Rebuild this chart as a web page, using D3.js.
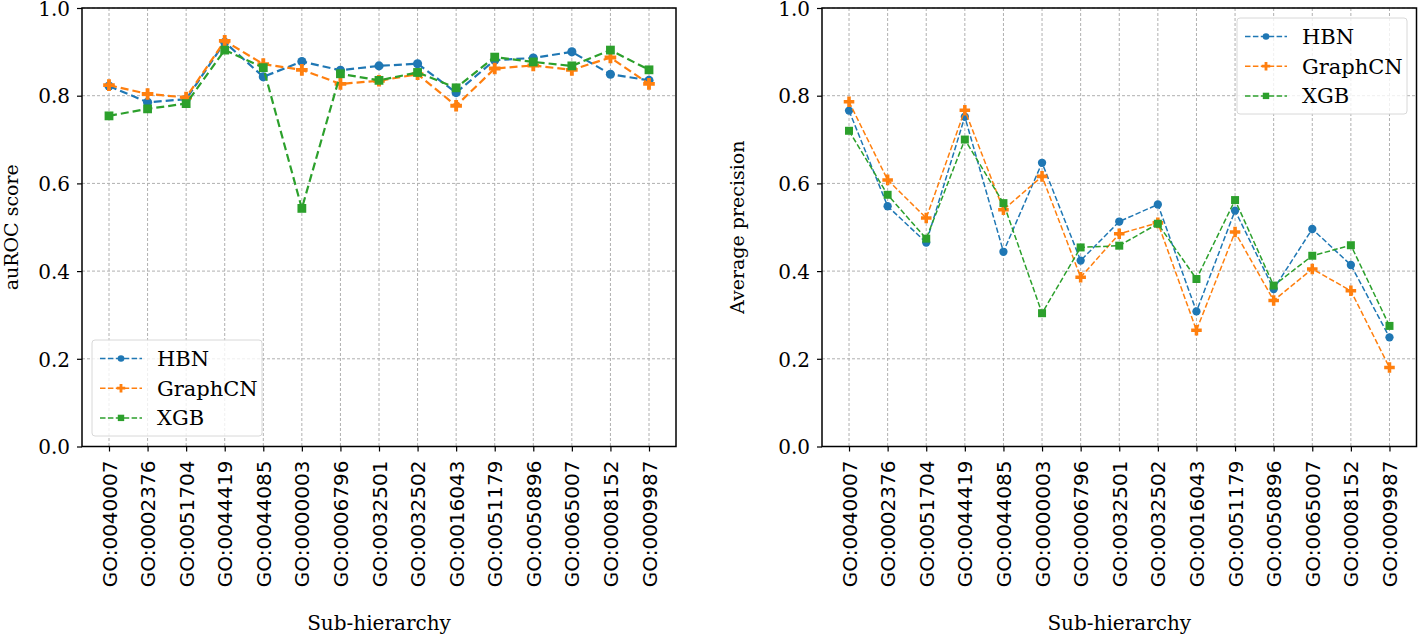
<!DOCTYPE html>
<html>
<head>
<meta charset="utf-8">
<script src="https://cdn.jsdelivr.net/npm/d3@7"></script>
<style>
  body { margin: 0; background: #fff; }
  svg { display: block; }
</style>
</head>
<body>
<div id="chart"></div>
<script>
// Data
const categories = ["GO:0040007", "GO:0002376", "GO:0051704", "GO:0044419", "GO:0044085",
    "GO:0000003", "GO:0006796", "GO:0032501", "GO:0032502", "GO:0016043",
    "GO:0051179", "GO:0050896", "GO:0065007", "GO:0008152", "GO:0009987"];

const seriesNames = ["HBN", "GraphCN", "XGB"];
const seriesColors = ["#1f77b4", "#ff7f0e", "#2ca02c"];

const hbnAuroc   = [0.822, 0.785, 0.792, 0.922, 0.843, 0.878, 0.858, 0.868, 0.873, 0.807, 0.881, 0.886, 0.900, 0.849, 0.835];
const graphAuroc = [0.824, 0.804, 0.796, 0.925, 0.872, 0.859, 0.827, 0.834, 0.849, 0.777, 0.862, 0.869, 0.859, 0.887, 0.827];
const xgbAuroc   = [0.754, 0.770, 0.782, 0.904, 0.864, 0.543, 0.850, 0.835, 0.853, 0.818, 0.888, 0.877, 0.868, 0.904, 0.859];

const hbnAp   = [0.766, 0.548, 0.465, 0.752, 0.444, 0.647, 0.424, 0.513, 0.552, 0.308, 0.538, 0.359, 0.496, 0.414, 0.249];
const graphAp = [0.786, 0.608, 0.521, 0.767, 0.540, 0.616, 0.386, 0.485, 0.510, 0.265, 0.489, 0.333, 0.405, 0.355, 0.180];
const xgbAp   = [0.720, 0.574, 0.474, 0.700, 0.555, 0.304, 0.454, 0.458, 0.508, 0.382, 0.562, 0.367, 0.435, 0.459, 0.275];

const yTicks = [0.0, 0.2, 0.4, 0.6, 0.8, 1.0];

const width = 1424, height = 636;

const svg = d3.select("#chart")
    .append("svg")
    .attr("width", width)
    .attr("height", height)
    .style("font-family", "'DejaVu Serif', serif");

// draw one panel
function drawPanel(opts) {
    const {left, right, top, bottom, values, yLabel, legendPos, lw, dash, mk} = opts;

    const x = d3.scaleLinear()
        .domain([-0.7, categories.length - 1 + 0.7])
        .range([left, right]);
    const y = d3.scaleLinear().domain([0, 1]).range([bottom, top]);

    const g = svg.append("g");

    // grid
    g.append("g").selectAll("line.v")
        .data(d3.range(categories.length))
        .join("line")
        .attr("x1", d => x(d)).attr("x2", d => x(d))
        .attr("y1", top).attr("y2", bottom)
        .attr("stroke", "#b0b0b0").attr("stroke-width", 1)
        .attr("stroke-dasharray", "3,2");
    g.append("g").selectAll("line.h")
        .data(yTicks)
        .join("line")
        .attr("x1", left).attr("x2", right)
        .attr("y1", d => y(d)).attr("y2", d => y(d))
        .attr("stroke", "#b0b0b0").attr("stroke-width", 1)
        .attr("stroke-dasharray", "3,2");

    // series
    const line = d3.line()
        .x((d, i) => x(i))
        .y(d => y(d));

    values.forEach((vals, s) => {
        g.append("path")
            .datum(vals)
            .attr("fill", "none")
            .attr("stroke", seriesColors[s])
            .attr("stroke-width", lw)
            .attr("stroke-dasharray", dash)
            .attr("d", line);
        drawMarkers(g, vals.map((v, i) => [x(i), y(v)]), s, mk);
    });

    // frame
    g.append("rect")
        .attr("x", left).attr("y", top)
        .attr("width", right - left).attr("height", bottom - top)
        .attr("fill", "none").attr("stroke", "#000").attr("stroke-width", 1.5);

    // axes
    const xAxis = g.append("g")
        .attr("transform", `translate(0,${bottom})`)
        .call(d3.axisBottom(x)
            .tickValues(d3.range(categories.length))
            .tickFormat(i => categories[i])
            .tickSize(5).tickPadding(6));
    xAxis.select(".domain").remove();
    xAxis.selectAll(".tick line").attr("stroke", "#000").attr("stroke-width", 1.2);
    xAxis.selectAll(".tick text")
        .attr("transform", "rotate(-90)")
        .attr("x", -14).attr("y", 0).attr("dy", "0.35em")
        .attr("text-anchor", "end")
        .style("font-family", "'DejaVu Sans', sans-serif")
        .style("font-size", "20px")
        .attr("fill", "#000");

    const yAxis = g.append("g")
        .attr("transform", `translate(${left},0)`)
        .call(d3.axisLeft(y).tickValues(yTicks).tickFormat(d3.format(".1f"))
            .tickSize(5).tickPadding(7));
    yAxis.select(".domain").remove();
    yAxis.selectAll(".tick line").attr("stroke", "#000").attr("stroke-width", 1.2);
    yAxis.selectAll(".tick text")
        .style("font-family", "'DejaVu Serif', serif")
        .style("font-size", "20px")
        .attr("dy", "0.36em")
        .attr("fill", "#000");

    // labels
    g.append("text")
        .attr("x", (left + right) / 2)
        .attr("y", 630)
        .attr("text-anchor", "middle")
        .style("font-size", "20px")
        .text("Sub-hierarchy");

    g.append("text")
        .attr("transform", `translate(${left - opts.yLabelOffset},${(top + bottom) / 2}) rotate(-90)`)
        .attr("text-anchor", "middle")
        .style("font-size", "19px")
        .text(yLabel);

    // legend
    const lg = g.append("g");
    lg.append("rect")
        .attr("x", legendPos.x).attr("y", legendPos.y)
        .attr("width", 170).attr("height", 96)
        .attr("rx", 3)
        .attr("fill", "#fff").attr("fill-opacity", 0.8)
        .attr("stroke", "#d8d8d8").attr("stroke-width", 1);
    seriesNames.forEach((name, s) => {
        const ry = legendPos.y + 18.5 + s * 29.7;
        const hx = legendPos.x + 8;
        lg.append("line")
            .attr("x1", hx).attr("x2", hx + 42)
            .attr("y1", ry).attr("y2", ry)
            .attr("stroke", seriesColors[s])
            .attr("stroke-width", 1.5)
            .attr("stroke-dasharray", "5.5,2.4");
        drawMarkers(lg, [[hx + 21, ry]], s, 0.8);
        lg.append("text")
            .attr("x", legendPos.x + 65)
            .attr("y", ry)
            .attr("dy", "0.35em")
            .style("font-size", "21px")
            .text(name);
    });
}

function drawMarkers(g, pts, s, scale) {
    const types = [d3.symbolCircle, d3.symbolCross, d3.symbolSquare];
    const sizes = [54, 62, 64];
    g.append("g").selectAll("path")
        .data(pts)
        .join("path")
        .attr("transform", d => `translate(${d[0]},${d[1]})`)
        .attr("d", d3.symbol().type(types[s]).size(sizes[s] * scale * scale))
        .attr("fill", seriesColors[s]);
}

drawPanel({
    left: 82, right: 676, top: 8, bottom: 446.5,
    values: [hbnAuroc, graphAuroc, xgbAuroc],
    yLabel: "auROC score",
    yLabelOffset: 64,
    legendPos: {x: 92, y: 340},
    lw: 2.2, dash: "8,4", mk: 1.1
});

drawPanel({
    left: 822, right: 1416.5, top: 8, bottom: 446.5,
    values: [hbnAp, graphAp, xgbAp],
    yLabel: "Average precision",
    yLabelOffset: 78,
    legendPos: {x: 1237, y: 18},
    lw: 1.5, dash: "5.5,2.4", mk: 1.0
});
</script>
</body>
</html>
